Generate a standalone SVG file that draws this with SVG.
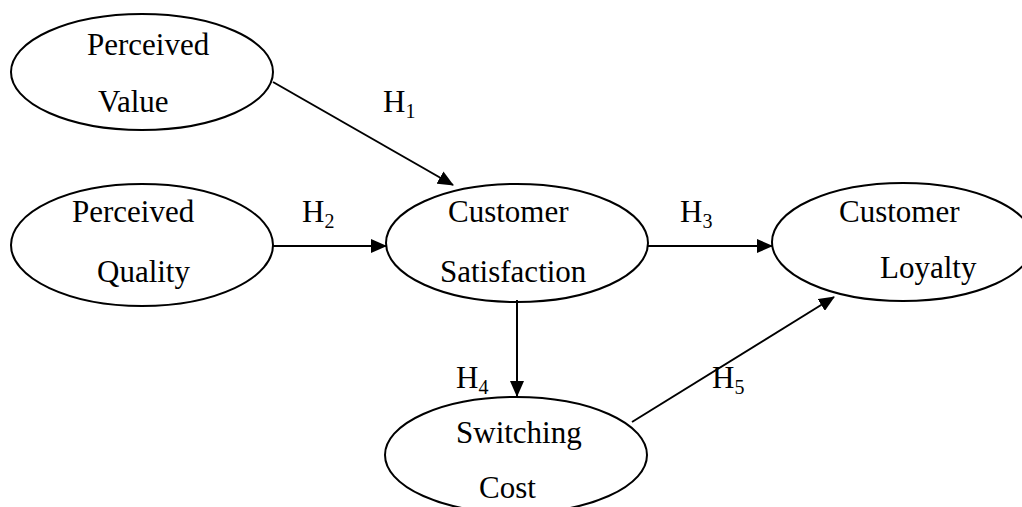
<svg xmlns="http://www.w3.org/2000/svg" width="1022" height="507" viewBox="0 0 1022 507">
<defs>
<style>
.n ellipse{fill:#fff;stroke:#000;stroke-width:2}
text{font-family:'Liberation Serif','Times New Roman',Times,'DejaVu Serif',serif;font-size:31px;fill:#000}
.sub{font-size:20px}
#edges line{stroke:#000;stroke-width:2}
</style>
<marker id="ah" markerWidth="16" markerHeight="14" refX="15" refY="7" orient="auto" markerUnits="userSpaceOnUse" viewBox="0 0 16 14">
<path d="M0,0 L16,7 L0,14 z" fill="#000"/>
</marker>
</defs>
<rect width="1022" height="507" fill="#fff"/>
<g id="value" class="n"><ellipse cx="142" cy="72" rx="131" ry="58"/><text x="87" y="55" font-family="Liberation Serif, serif">Perceived</text><text x="98" y="112" font-family="Liberation Serif, serif">Value</text></g>
<g id="quality" class="n"><ellipse cx="142" cy="245" rx="131" ry="61"/><text x="72" y="222" font-family="Liberation Serif, serif">Perceived</text><text x="97" y="282" font-family="Liberation Serif, serif">Quality</text></g>
<g id="satisfaction" class="n"><ellipse cx="517" cy="243" rx="131" ry="59"/><text x="448" y="222" font-family="Liberation Serif, serif">Customer</text><text x="440" y="282" font-family="Liberation Serif, serif">Satisfaction</text></g>
<g id="loyalty" class="n"><ellipse cx="903" cy="242" rx="131" ry="59"/><text x="839" y="222" font-family="Liberation Serif, serif">Customer</text><text x="880" y="278" font-family="Liberation Serif, serif">Loyalty</text></g>
<g id="switching" class="n"><ellipse cx="516" cy="455" rx="131" ry="58"/><text x="456" y="443" font-family="Liberation Serif, serif">Switching</text><text x="479" y="498" font-family="Liberation Serif, serif">Cost</text></g>
<g id="edges">
<line x1="273" y1="82" x2="453" y2="185" marker-end="url(#ah)"/>
<line x1="273" y1="246" x2="386" y2="246" marker-end="url(#ah)"/>
<line x1="648" y1="246" x2="772" y2="246" marker-end="url(#ah)"/>
<line x1="517" y1="300" x2="517" y2="396" marker-end="url(#ah)"/>
<line x1="632" y1="422" x2="834" y2="297" marker-end="url(#ah)"/>
</g>
<g id="labels" font-family="Liberation Serif, serif">
<text x="383" y="112">H<tspan class="sub" dy="6">1</tspan></text>
<text x="302" y="222">H<tspan class="sub" dy="6">2</tspan></text>
<text x="680" y="222">H<tspan class="sub" dy="6">3</tspan></text>
<text x="456" y="388">H<tspan class="sub" dy="6">4</tspan></text>
<text x="712" y="388">H<tspan class="sub" dy="6">5</tspan></text>
</g>
</svg>
